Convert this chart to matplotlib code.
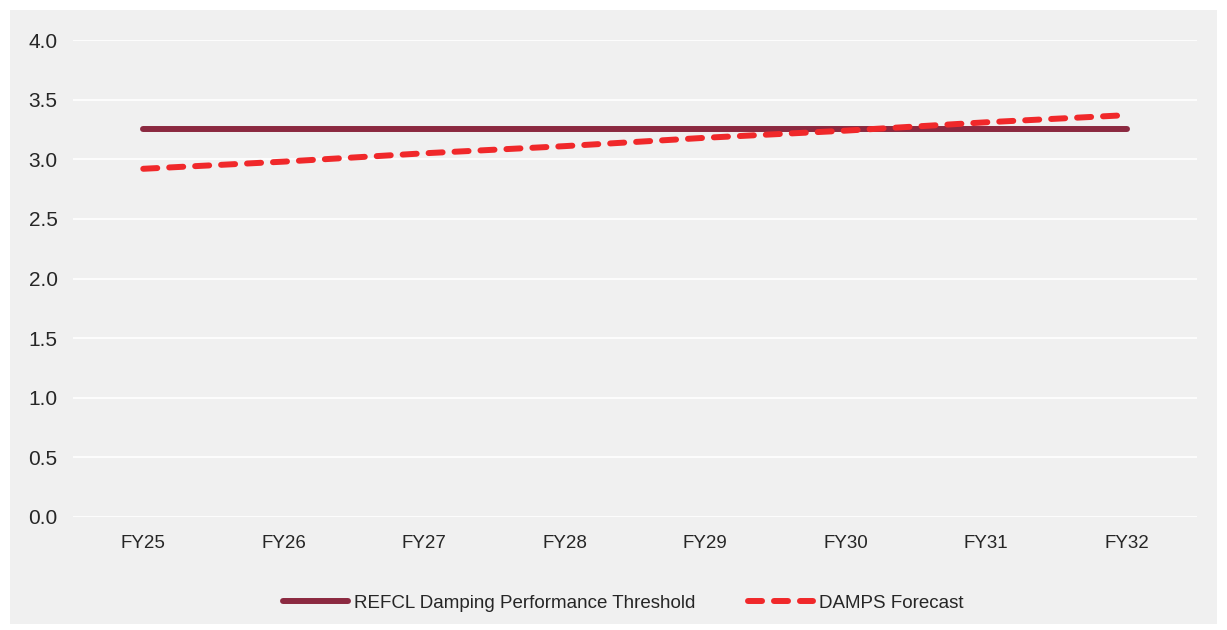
import matplotlib
matplotlib.use("Agg")
import matplotlib.pyplot as plt
from matplotlib.patches import Rectangle
from matplotlib.lines import Line2D

years = ["FY25", "FY26", "FY27", "FY28", "FY29", "FY30", "FY31", "FY32"]
threshold = [3.25, 3.25, 3.25, 3.25, 3.25, 3.25, 3.25, 3.25]
damps_forecast = [2.92, 2.98, 3.05, 3.11, 3.18, 3.24, 3.31, 3.37]
y_ticks = [0.0, 0.5, 1.0, 1.5, 2.0, 2.5, 3.0, 3.5, 4.0]

plt.rcParams["font.family"] = ["Liberation Sans", "DejaVu Sans"]

W, H = 1227, 630
fig = plt.figure(figsize=(W / 100, H / 100), dpi=100, facecolor="white")

# grey chart panel inside a thin white border
panel = Rectangle((10 / W, 6 / H), 1207 / W, 614 / H, transform=fig.transFigure,
                  facecolor="#f0f0f0", edgecolor="none", zorder=-5)
fig.add_artist(panel)

ax = fig.add_axes([73 / W, 1 - 517 / H, 1124 / W, 477 / H])
ax.set_facecolor("none")
ax.set_zorder(1)

LW = 4.3
DASH = (2.35, 2.0)
x = list(range(len(years)))
ax.plot(x, threshold, color="#8b2940", lw=LW, solid_capstyle="round",
        label="REFCL Damping Performance Threshold", zorder=3)
ax.plot(x, damps_forecast, color="#f0282a", lw=LW, dashes=DASH,
        dash_capstyle="round", label="DAMPS Forecast", zorder=4)

ax.set_xlim(-0.5, len(years) - 0.5)
ax.set_ylim(0, 4.0)
ax.set_yticks(y_ticks)
ax.set_yticklabels([f"{v:.1f}" for v in y_ticks])
ax.set_xticks(x)
ax.set_xticklabels(years)

ax.grid(axis="y", color="white", lw=1.2)
ax.set_axisbelow(True)
for s in ax.spines.values():
    s.set_visible(False)
ax.tick_params(axis="both", length=0, colors="#262626")
ax.tick_params(axis="y", pad=11, labelsize=15)
ax.tick_params(axis="x", pad=13, labelsize=13.5)

handles = [
    Line2D([], [], color="#8b2940", lw=LW, solid_capstyle="round"),
    Line2D([], [], color="#f0282a", lw=LW, dashes=DASH, dash_capstyle="round"),
]
fig.legend(handles, ["REFCL Damping Performance Threshold", "DAMPS Forecast"],
           loc="center", bbox_to_anchor=(623 / W, 1 - 603 / H), ncol=2,
           frameon=False, fontsize=13.5, handlelength=3.5, handletextpad=0.3,
           columnspacing=2.8, labelcolor="#262626")

fig.savefig("out.png", dpi=100, facecolor="white")
